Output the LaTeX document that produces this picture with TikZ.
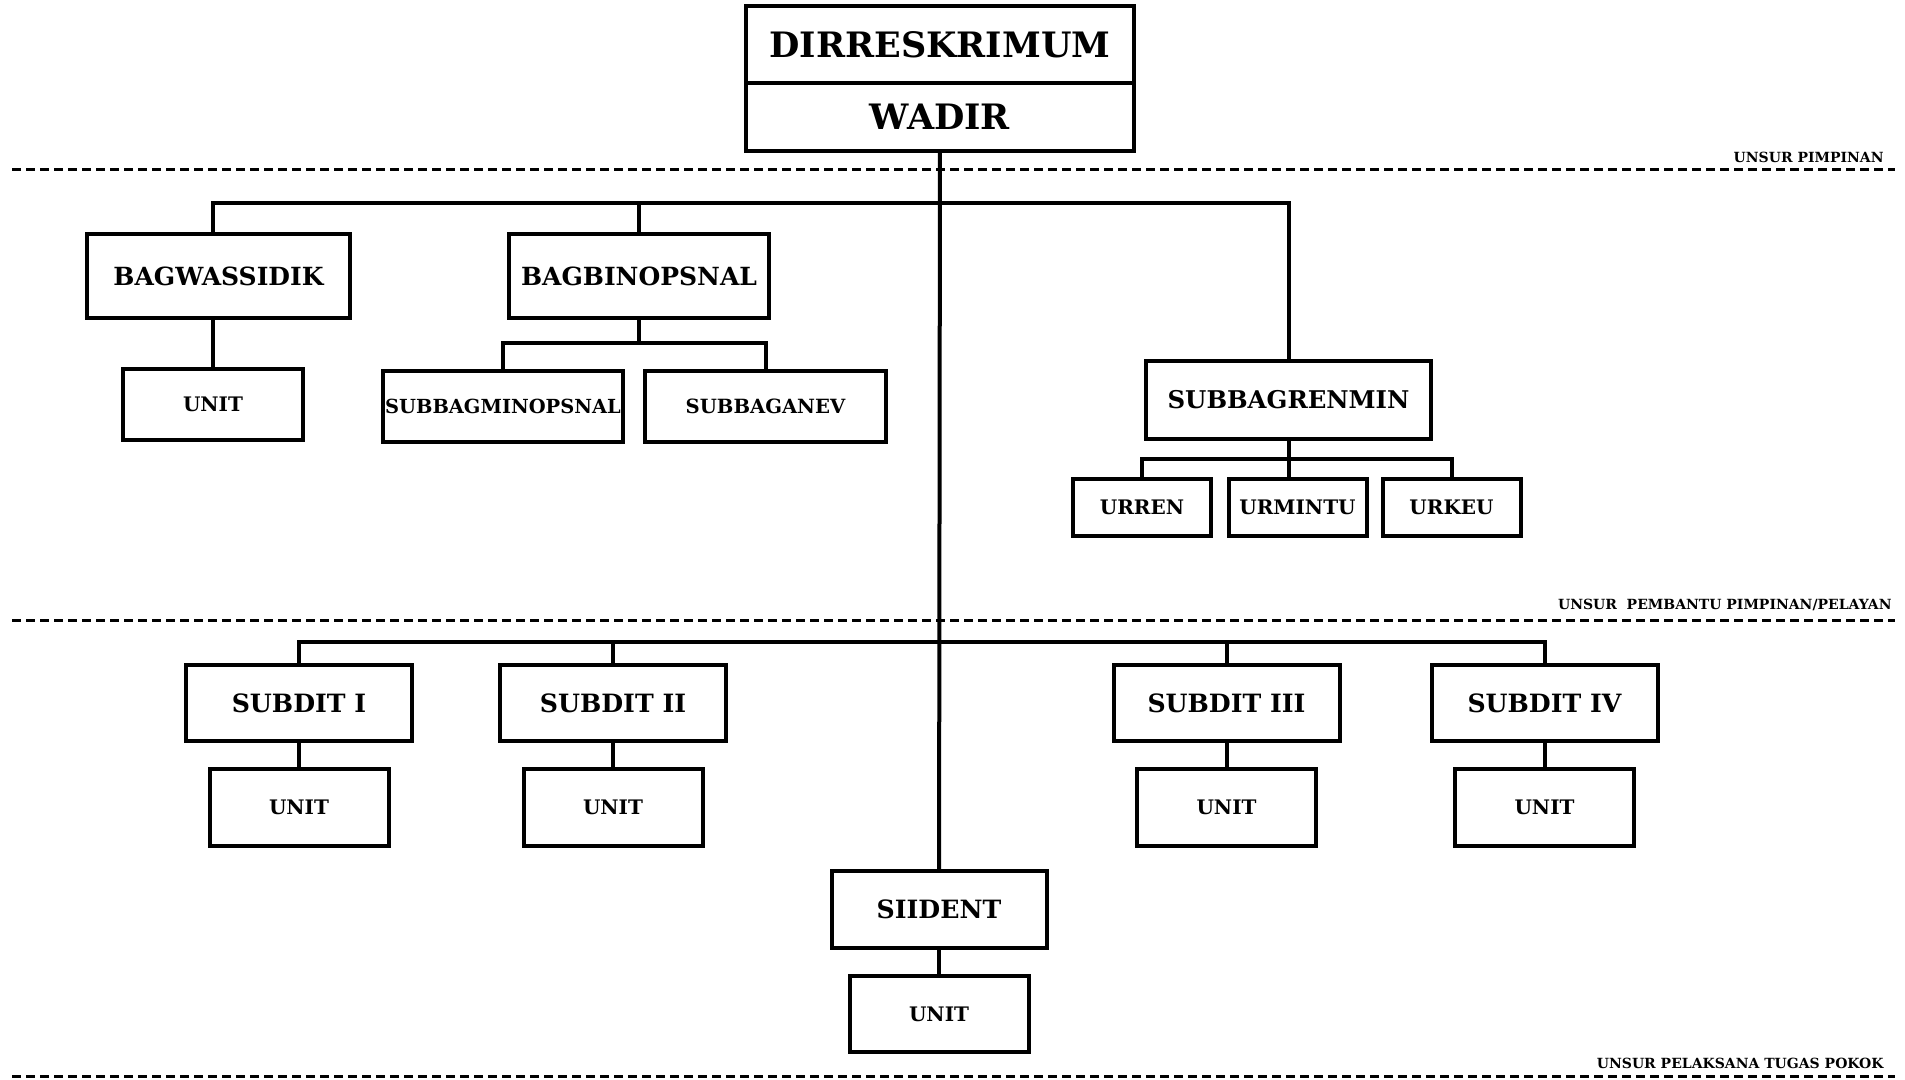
\documentclass[tikz,border=0pt]{standalone}
\usepackage{fontspec}
\setmainfont{DejaVu Serif}
\usepackage{tikz}
\usetikzlibrary{positioning, calc}

\tikzset{
    orgbox/.style={draw, line width=2pt, inner sep=0pt, align=center, font=\bfseries},
    link/.style={line width=2pt},
    sepline/.style={line width=1.5pt, dash pattern=on 4.5pt off 2.5pt},
    seplabel/.style={anchor=base east, inner sep=0pt, font=\bfseries\fontsize{7}{8}\selectfont}
}

\begin{document}
\begin{tikzpicture}[x=0.5pt, y=-0.5pt]
            \useasboundingbox (0,0) rectangle (1905,1080);

            % pimpinan
            \node[orgbox, minimum width=194pt, minimum height=38.5pt, font=\bfseries\fontsize{17.5}{20}\selectfont] (dir) at (940,44.5) {DIRRESKRIMUM};
            \node[orgbox, minimum width=194pt, minimum height=34pt, font=\bfseries\fontsize{17.5}{20}\selectfont] (wadir) at (940,117) {WADIR};

            % pembantu pimpinan / pelayan
            \node[orgbox, minimum width=131.5pt, minimum height=42pt, font=\bfseries\fontsize{12.5}{14}\selectfont] (bagwas) at (218.5,276) {BAGWASSIDIK};
            \node[orgbox, minimum width=90pt, minimum height=35.5pt, font=\bfseries\fontsize{10}{12}\selectfont] (unitbw) at (213,404.5) {UNIT};
            \node[orgbox, minimum width=130pt, minimum height=42pt, font=\bfseries\fontsize{12.5}{14}\selectfont] (bagbin) at (639,276) {BAGBINOPSNAL};
            \node[orgbox, minimum width=120pt, minimum height=35.5pt, font=\bfseries\fontsize{9.7}{12}\selectfont] (subbagmin) at (503,406.5) {SUBBAGMINOPSNAL};
            \node[orgbox, minimum width=120.5pt, minimum height=35.5pt, font=\bfseries\fontsize{9.8}{12}\selectfont] (subbagan) at (765.5,406.5) {SUBBAGANEV};
            \node[orgbox, minimum width=142.5pt, minimum height=39pt, font=\bfseries\fontsize{12.2}{14}\selectfont] (subren) at (1288.5,400) {SUBBAGRENMIN};
            \foreach \n/\x in {URREN/1142, URMINTU/1297.5, URKEU/1451.5} {
                \node[orgbox, minimum width=69pt, minimum height=28.5pt, font=\bfseries\fontsize{10}{12}\selectfont] (\n) at (\x,507.5) {\n};
            }

            % pelaksana tugas pokok
            \foreach \k/\lbl/\x in {1/I/299, 2/II/613, 3/III/1226.5, 4/IV/1544.5} {
                \node[orgbox, minimum width=113pt, minimum height=38pt, font=\bfseries\fontsize{12.6}{14}\selectfont] (subdit\k) at (\x,703) {SUBDIT \lbl};
                \node[orgbox, minimum width=89.5pt, minimum height=38.5pt, font=\bfseries\fontsize{10}{12}\selectfont] (unit\k) at (\x,807.5) {UNIT};
                \draw[link] (subdit\k) -- (unit\k);
            }
            \node[orgbox, minimum width=107.5pt, minimum height=38.5pt, font=\bfseries\fontsize{12.6}{14}\selectfont] (siident) at (939,909.5) {SIIDENT};
            \node[orgbox, minimum width=89.5pt, minimum height=38pt, font=\bfseries\fontsize{10}{12}\selectfont] (unitsi) at (939,1014) {UNIT};

            % garis
            \coordinate (bustop) at (939,203);
            \coordinate (busbin) at (639,343);
            \coordinate (busren) at (1288.5,459);
            \coordinate (busbot) at (939,642);

            \draw[link] (wadir) -- (siident);
            \draw[link] (unitbw.north |- bagwas.north) |- (bustop) -| (subren.north);
            \draw[link] (bagbin.north) -- (bagbin.north |- bustop);
            \draw[link] (unitbw.north |- bagwas.south) -- (unitbw.north);
            \draw[link] (bagbin) -- (busbin);
            \draw[link] (subbagmin.north) |- (busbin) -| (subbagan.north);
            \draw[link] (subren) -- (busren);
            \draw[link] (URREN.north) |- (busren) -| (URKEU.north);
            \draw[link] (busren) -- (busren |- URMINTU.north);
            \draw[link] (subdit1.north) |- (busbot) -| (subdit4.north);
            \draw[link] (subdit2.north) -- (subdit2.north |- busbot);
            \draw[link] (subdit3.north) -- (subdit3.north |- busbot);
            \draw[link] (siident) -- (unitsi);

            % batas unsur
            \draw[sepline] (12,170) -- (1895,170);
            \draw[sepline] (12,620) -- (1895,620);
            \draw[sepline] (12,1076) -- (1895,1076);
            \node[seplabel] (lblpimp) at (1884,163) {UNSUR PIMPINAN};
            \node[seplabel] (lblpemb) at (1892,609) {UNSUR\ \ PEMBANTU PIMPINAN/PELAYAN};
            \node[seplabel] (lblpel) at (1884,1068) {UNSUR PELAKSANA TUGAS POKOK};
        \end{tikzpicture}
\end{document}
